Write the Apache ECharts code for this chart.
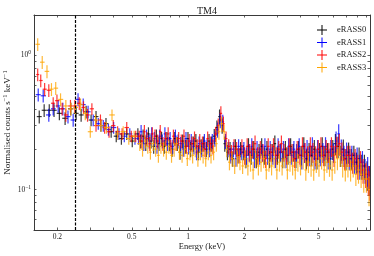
<!DOCTYPE html>
<html><head><meta charset="utf-8">
<script src="https://cdn.jsdelivr.net/npm/echarts@6/dist/echarts.min.js"></script>
<style>html,body{margin:0;padding:0;background:#fff}#c{width:374px;height:256px}</style>
</head><body><div id="c"></div>
<script>
const seriesNames = ['eRASS0', 'eRASS1', 'eRASS2', 'eRASS3'];
const seriesColors = ['#000000', '#0000ff', '#ff0000', '#ffa500'];

// x tick marks and labels (keV)
const xTickValues = [0.2,0.3,0.4,0.5,0.6,0.7,0.8,0.9,1,2,3,4,5,6,7,8,9];
const xLabelValues = [0.2, 0.5, 1, 2, 5];
// y tick marks and labels
const yTickValues = [0.05,0.06,0.07,0.08,0.09,0.1,0.2,0.3,0.4,0.5,0.6,0.7,0.8,0.9,1,2];
const yLabelValues = [0.1, 1];

const cutEnergy = 0.25; // dashed vertical line (keV)

// relative 1-sigma error by energy band
const errBandEnergy = [0.15, 0.3, 0.55, 1.0, 2.0, 4.0, 6.0, 8.0, 9.0];
const errBandFrac   = [0.11, 0.10, 0.12, 0.13, 0.15, 0.17, 0.18, 0.21, 0.25];

// low-energy (coarsely grouped) bins per survey
const sparseE_eRASS0 = [0.160,0.170,0.181,0.192,0.205,0.220,0.236,0.252,0.268,0.285,0.303,0.322,0.342,0.364,0.388,0.413,0.440,0.470,0.503];
const sparseV_eRASS0 = [0.35,0.39,0.39,0.39,0.37,0.34,0.40,0.37,0.36,0.38,0.33,0.35,0.30,0.31,0.27,0.25,0.24,0.26,0.23];
const sparseE_eRASS1 = [0.158,0.168,0.180,0.190,0.202,0.214,0.228,0.243,0.258,0.275,0.292,0.311,0.331,0.352,0.375,0.400,0.427,0.456,0.488,0.520];
const sparseV_eRASS1 = [0.51,0.50,0.36,0.40,0.42,0.40,0.35,0.33,0.47,0.43,0.38,0.33,0.31,0.30,0.28,0.29,0.26,0.25,0.26,0.24];
const sparseE_eRASS2 = [0.157,0.163,0.171,0.180,0.190,0.199,0.212,0.222,0.235,0.248,0.262,0.276,0.290,0.306,0.322,0.340,0.358,0.378,0.398,0.420,0.444,0.470,0.497,0.525];
const sparseV_eRASS2 = [0.72,0.65,0.56,0.55,0.44,0.46,0.40,0.36,0.42,0.42,0.44,0.41,0.36,0.40,0.30,0.33,0.29,0.27,0.30,0.27,0.26,0.29,0.25,0.25];
const sparseE_eRASS3 = [0.157,0.166,0.176,0.186,0.196,0.208,0.222,0.236,0.250,0.266,0.282,0.300,0.320,0.342,0.366,0.392,0.420,0.450,0.482,0.515];
const sparseV_eRASS3 = [1.21,0.89,0.76,0.56,0.57,0.47,0.42,0.40,0.41,0.43,0.37,0.27,0.33,0.30,0.29,0.36,0.26,0.27,0.24,0.25];

// finely binned energies (keV), per survey
const denseE_eRASS0 = [
 0.539,0.557,0.575,0.594,0.614,0.634,0.655,0.677,0.699,0.722,
 0.746,0.771,0.796,0.822,0.849,0.877,0.906,0.936,0.967,0.999,
 1.032,1.066,1.101,1.137,1.175,1.213,1.253,1.295,1.337,1.381,
 1.427,1.474,1.522,1.572,1.624,1.678,1.733,1.790,1.849,1.910,
 1.973,2.038,2.105,2.175,2.246,2.320,2.397,2.476,2.557,2.642,
 2.729,2.819,2.912,3.008,3.107,3.209,3.315,3.424,3.537,3.654,
 3.774,3.899,4.027,4.160,4.297,4.439,4.585,4.736,4.892,5.054,
 5.220,5.393,5.570,5.754,5.944,6.140,6.342,6.551,6.767,6.990,
 7.221,7.459,7.705,7.959,8.221,8.493,8.773,9.062,9.300];
const denseE_eRASS1 = [
 0.543,0.561,0.580,0.599,0.619,0.639,0.660,0.682,0.705,0.728,
 0.752,0.777,0.802,0.829,0.856,0.884,0.913,0.943,0.975,1.007,
 1.040,1.075,1.110,1.146,1.184,1.223,1.263,1.305,1.348,1.392,
 1.438,1.486,1.534,1.585,1.637,1.691,1.747,1.804,1.864,1.925,
 1.989,2.054,2.122,2.192,2.264,2.339,2.416,2.496,2.577,2.663,
 2.751,2.842,2.935,3.032,3.132,3.235,3.342,3.451,3.565,3.683,
 3.804,3.930,4.059,4.193,4.331,4.475,4.622,4.774,4.931,5.094,
 5.262,5.436,5.615,5.800,5.992,6.189,6.393,6.603,6.821,7.046,
 7.279,7.519,7.767,8.023,8.287,8.561,8.843,9.134,9.374];
const denseE_eRASS2 = [
 0.548,0.566,0.584,0.603,0.624,0.644,0.665,0.688,0.710,0.734,
 0.758,0.783,0.809,0.835,0.863,0.891,0.920,0.951,0.982,1.015,
 1.049,1.083,1.119,1.155,1.194,1.232,1.273,1.316,1.358,1.403,
 1.450,1.498,1.546,1.597,1.650,1.705,1.761,1.819,1.879,1.941,
 2.005,2.071,2.139,2.210,2.282,2.357,2.435,2.516,2.598,2.684,
 2.773,2.864,2.959,3.056,3.157,3.260,3.368,3.479,3.594,3.712,
 3.834,3.961,4.091,4.227,4.366,4.510,4.658,4.812,4.970,5.135,
 5.304,5.479,5.659,5.846,6.039,6.238,6.443,6.656,6.875,7.102,
 7.337,7.578,7.828,8.086,8.353,8.629,8.913,9.207,9.390];
const denseE_eRASS3 = [
 0.552,0.571,0.589,0.609,0.629,0.650,0.671,0.694,0.716,0.740,
 0.765,0.790,0.816,0.843,0.870,0.899,0.929,0.959,0.991,1.024,
 1.058,1.093,1.129,1.165,1.204,1.243,1.284,1.327,1.370,1.416,
 1.463,1.511,1.560,1.611,1.665,1.720,1.776,1.835,1.895,1.958,
 2.022,2.089,2.158,2.229,2.302,2.378,2.457,2.538,2.621,2.708,
 2.797,2.889,2.985,3.083,3.185,3.289,3.398,3.510,3.625,3.745,
 3.868,3.996,4.128,4.264,4.404,4.550,4.700,4.854,5.014,5.180,
 5.351,5.528,5.709,5.898,6.093,6.294,6.501,6.715,6.936,7.165,
 7.402,7.645,7.898,8.158,8.427,8.705,8.992,9.289];

const dense_eRASS0 = [
 0.26,0.23,0.25,0.22,0.26,0.23,0.21,0.25,0.22,0.24,
 0.21,0.24,0.22,0.20,0.24,0.22,0.19,0.23,0.21,0.24,
 0.20,0.22,0.23,0.19,0.21,0.22,0.20,0.23,0.22,0.25,
 0.29,0.35,0.30,0.22,0.19,0.20,0.17,0.21,0.18,0.20,
 0.19,0.17,0.21,0.18,0.20,0.17,0.19,0.21,0.18,0.20,
 0.17,0.19,0.22,0.18,0.19,0.17,0.20,0.18,0.21,0.19,
 0.17,0.20,0.18,0.21,0.17,0.19,0.18,0.20,0.17,0.19,
 0.21,0.18,0.19,0.17,0.20,0.22,0.21,0.18,0.20,0.17,
 0.19,0.17,0.18,0.16,0.17,0.15,0.15,0.13,0.12];
const dense_eRASS1 = [
 0.24,0.27,0.22,0.25,0.23,0.26,0.24,0.21,0.25,0.23,
 0.26,0.22,0.24,0.21,0.25,0.23,0.22,0.20,0.24,0.21,
 0.23,0.21,0.19,0.22,0.20,0.23,0.21,0.20,0.23,0.24,
 0.28,0.33,0.32,0.23,0.20,0.18,0.20,0.17,0.21,0.19,
 0.20,0.18,0.19,0.21,0.17,0.20,0.18,0.19,0.21,0.18,
 0.20,0.18,0.17,0.21,0.19,0.20,0.17,0.21,0.18,0.20,
 0.19,0.21,0.17,0.19,0.20,0.18,0.21,0.17,0.20,0.18,
 0.19,0.21,0.17,0.20,0.19,0.23,0.26,0.20,0.18,0.19,
 0.17,0.18,0.16,0.17,0.15,0.16,0.14,0.14,0.12];
const dense_eRASS2 = [
 0.25,0.23,0.27,0.24,0.22,0.26,0.25,0.23,0.27,0.22,
 0.24,0.26,0.21,0.25,0.22,0.24,0.23,0.25,0.21,0.23,
 0.22,0.24,0.21,0.23,0.22,0.20,0.24,0.22,0.21,0.26,
 0.30,0.37,0.31,0.24,0.21,0.19,0.21,0.20,0.18,0.21,
 0.18,0.21,0.19,0.20,0.22,0.18,0.20,0.19,0.17,0.21,
 0.19,0.21,0.18,0.20,0.22,0.19,0.18,0.21,0.19,0.17,
 0.20,0.18,0.21,0.19,0.18,0.21,0.19,0.18,0.20,0.21,
 0.18,0.20,0.19,0.21,0.18,0.21,0.22,0.19,0.17,0.18,
 0.18,0.16,0.17,0.15,0.16,0.14,0.13,0.12,0.11];
const dense_eRASS3 = [
 0.22,0.20,0.23,0.21,0.19,0.22,0.20,0.18,0.21,0.20,
 0.19,0.21,0.18,0.20,0.22,0.19,0.18,0.20,0.17,0.19,
 0.18,0.20,0.17,0.19,0.18,0.17,0.19,0.18,0.19,0.22,
 0.27,0.31,0.27,0.20,0.16,0.17,0.15,0.17,0.16,0.15,
 0.17,0.15,0.16,0.14,0.17,0.15,0.16,0.17,0.14,0.16,
 0.15,0.17,0.14,0.16,0.15,0.17,0.14,0.16,0.15,0.14,
 0.16,0.15,0.17,0.14,0.16,0.15,0.14,0.16,0.15,0.17,
 0.14,0.16,0.15,0.14,0.16,0.17,0.18,0.15,0.14,0.15,
 0.14,0.15,0.13,0.14,0.13,0.12,0.12,0.10];

const sparseE = [sparseE_eRASS0, sparseE_eRASS1, sparseE_eRASS2, sparseE_eRASS3];
const sparseV = [sparseV_eRASS0, sparseV_eRASS1, sparseV_eRASS2, sparseV_eRASS3];
const denseE = [denseE_eRASS0, denseE_eRASS1, denseE_eRASS2, denseE_eRASS3];
const denseV = [dense_eRASS0, dense_eRASS1, dense_eRASS2, dense_eRASS3];

function errFrac(e) {
  let f = errBandFrac[0];
  for (let i = 0; i < errBandEnergy.length; i++) if (e >= errBandEnergy[i]) f = errBandFrac[i];
  return f;
}
function buildData(k) {
  const E = sparseE[k].concat(denseE[k]);
  const V = sparseV[k].concat(denseV[k]);
  return E.map((e, i) => {
    const prev = i > 0 ? E[i - 1] : e * e / E[i + 1];
    const next = i < E.length - 1 ? E[i + 1] : e * e / E[i - 1];
    const f = errFrac(e);
    return [e, Math.sqrt(prev * e), Math.sqrt(e * next), V[i], V[i] * (1 - f), V[i] * (1 + f)];
  });
}

const FONT = 'Liberation Serif';
const TXT = '#222';
const FRAME = '#3a3a3a';

function makeSeries(k) {
  const color = seriesColors[k];
  const s = {
    type: 'custom',
    name: seriesNames[k],
    xAxisIndex: 0, yAxisIndex: 0,
    clip: true,
    itemStyle: { color: color },
    encode: { x: [0, 1, 2], y: [3, 4, 5] },
    data: buildData(k),
    renderItem: function (params, api) {
      const e = api.value(0), lo = api.value(1), hi = api.value(2);
      const v = api.value(3), ylo = api.value(4), yhi = api.value(5);
      const a = api.coord([lo, v]), b = api.coord([hi, v]);
      const c = api.coord([e, ylo]), d = api.coord([e, yhi]);
      const style = { stroke: color, lineWidth: 1.2, opacity: 0.78 };
      return { type: 'group', children: [
        { type: 'line', shape: { x1: a[0], y1: a[1], x2: b[0], y2: b[1] }, style: style },
        { type: 'line', shape: { x1: c[0], y1: c[1], x2: d[0], y2: d[1] }, style: style }
      ] };
    }
  };
  if (k === 0) {
    s.markLine = {
      silent: true, symbol: ['none', 'none'], label: { show: false },
      lineStyle: { color: '#000', type: [3, 1.5], width: 1.2, opacity: 1 },
      emphasis: { disabled: true },
      data: [{ xAxis: cutEnergy }]
    };
  }
  return s;
}

const xBase = {
  type: 'log', logBase: 10, min: 0.15, max: 9.4,
  axisLine: { show: true, lineStyle: { color: FRAME, width: 1 } },
  axisTick: { show: true, inside: true, length: 2.5, lineStyle: { color: FRAME, width: 0.8 }, customValues: xTickValues },
  splitLine: { show: false }, minorTick: { show: false }
};
const yBase = {
  type: 'log', logBase: 10, min: 0.05, max: 2,
  axisLine: { show: true, lineStyle: { color: FRAME, width: 1 } },
  axisTick: { show: true, inside: true, length: 2.5, lineStyle: { color: FRAME, width: 0.8 }, customValues: yTickValues },
  splitLine: { show: false }, minorTick: { show: false }
};

const option = {
  animation: false,
  backgroundColor: '#fff',
  color: seriesColors,
  title: {
    text: 'TM4', left: 202, top: 1, textAlign: 'center',
    textStyle: { fontFamily: FONT, fontSize: 10, fontWeight: 'normal', color: TXT }
  },
  legend: {
    orient: 'vertical', left: 312, top: 20, itemGap: 2.5,
    itemWidth: 10, itemHeight: 10, selectedMode: false,
    textStyle: { fontFamily: FONT, fontSize: 8.5, color: TXT, padding: [0, 0, 0, 5] },
    data: seriesNames.map((n, k) => ({ name: n, icon: 'path://M0,4.5H10V5.5H0Z M4.5,0H5.5V10H4.5Z', itemStyle: { color: seriesColors[k] } }))
  },
  grid: { left: 34, right: 4, top: 15, bottom: 26, outerBoundsMode: 'none', containLabel: false },
  xAxis: [
    Object.assign({}, xBase, {
      position: 'bottom',
      axisLabel: { show: true, customValues: xLabelValues, margin: 3, fontFamily: FONT, fontSize: 7.5, color: TXT,
        formatter: v => String(Math.round(v * 10) / 10) },
      name: 'Energy (keV)', nameLocation: 'middle', nameGap: 12, nameMoveOverlap: false,
      nameTextStyle: { fontFamily: FONT, fontSize: 8.5, color: TXT }
    }),
    Object.assign({}, xBase, { position: 'top', axisLabel: { show: false } })
  ],
  yAxis: [
    Object.assign({}, yBase, {
      position: 'left',
      axisLabel: { show: true, customValues: yLabelValues, margin: 3, fontFamily: FONT, fontSize: 7.5, color: TXT,
        formatter: v => '10{s|' + String(Math.round(Math.log10(v))).replace('-', '\u2212') + '}',
        rich: { s: { fontFamily: FONT, fontSize: 5.5, color: TXT, padding: [0, 0, 5, 0] } } },
      name: 'Normalised counts s{s|\u22121} keV{s|\u22121}', nameLocation: 'middle', nameGap: 20, nameMoveOverlap: false,
      nameTextStyle: { fontFamily: FONT, fontSize: 9, color: TXT,
        rich: { s: { fontFamily: FONT, fontSize: 6.5, color: TXT, padding: [0, 0, 5, 0] } } }
    }),
    Object.assign({}, yBase, { position: 'right', axisLabel: { show: false } })
  ],
  series: [0, 1, 2, 3].map(makeSeries)
};

const chart = echarts.init(document.getElementById('c'), null, { renderer: 'canvas' });
chart.setOption(option);
</script>
</body></html>
